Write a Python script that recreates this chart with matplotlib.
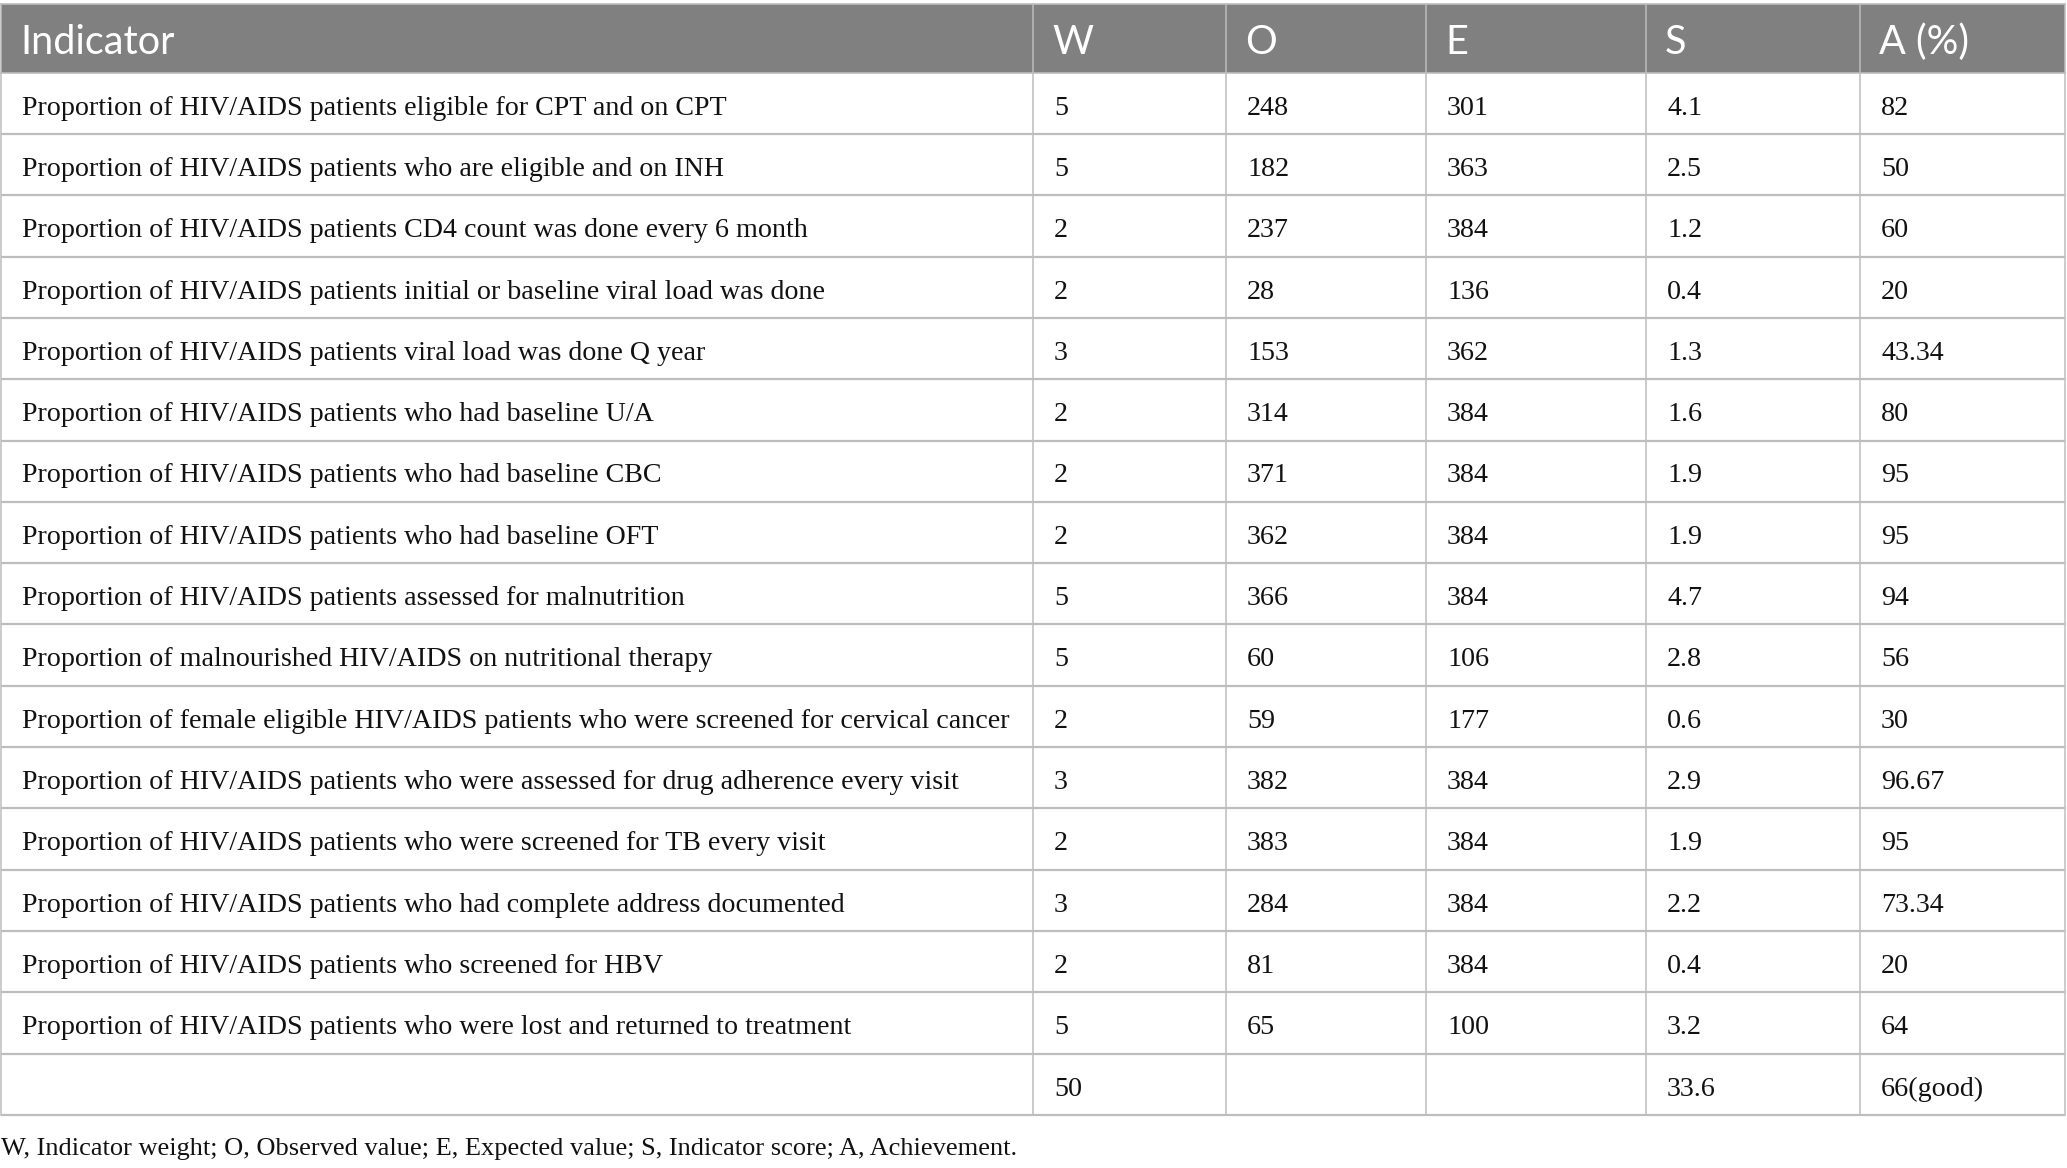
import matplotlib
matplotlib.use("Agg")
import matplotlib.pyplot as plt
from matplotlib.patches import Rectangle

# table content
headers = ["Indicator", "W", "O", "E", "S", "A (%)"]
indicators = [
    "Proportion of HIV/AIDS patients eligible for CPT and on CPT",
    "Proportion of HIV/AIDS patients who are eligible and on INH",
    "Proportion of HIV/AIDS patients CD4 count was done every 6 month",
    "Proportion of HIV/AIDS patients initial or baseline viral load was done",
    "Proportion of HIV/AIDS patients viral load was done Q year",
    "Proportion of HIV/AIDS patients who had baseline U/A",
    "Proportion of HIV/AIDS patients who had baseline CBC",
    "Proportion of HIV/AIDS patients who had baseline OFT",
    "Proportion of HIV/AIDS patients assessed for malnutrition",
    "Proportion of malnourished HIV/AIDS on nutritional therapy",
    "Proportion of female eligible HIV/AIDS patients who were screened for cervical cancer",
    "Proportion of HIV/AIDS patients who were assessed for drug adherence every visit",
    "Proportion of HIV/AIDS patients who were screened for TB every visit",
    "Proportion of HIV/AIDS patients who had complete address documented",
    "Proportion of HIV/AIDS patients who screened for HBV",
    "Proportion of HIV/AIDS patients who were lost and returned to treatment",
    "",
]
weight = ["5", "5", "2", "2", "3", "2", "2", "2", "5", "5", "2", "3", "2", "3", "2", "5", "50"]
observed = ["248", "182", "237", "28", "153", "314", "371", "362", "366", "60", "59", "382", "383", "284", "81", "65", ""]
expected = ["301", "363", "384", "136", "362", "384", "384", "384", "384", "106", "177", "384", "384", "384", "384", "100", ""]
score = ["4.1", "2.5", "1.2", "0.4", "1.3", "1.6", "1.9", "1.9", "4.7", "2.8", "0.6", "2.9", "1.9", "2.2", "0.4", "3.2", "33.6"]
achievement = ["82", "50", "60", "20", "43.34", "80", "95", "95", "94", "56", "30", "96.67", "95", "73.34", "20", "64", "66(good)"]
footnote = "W, Indicator weight; O, Observed value; E, Expected value; S, Indicator score; A, Achievement."

# layout in pixels
W_PX, H_PX = 2067, 1168
col_edges = [1, 1033, 1226, 1426, 1646, 1860, 2065]
header_top, header_bot = 4, 72.7
row_h = 61.3
pad = 21
header_color = "#7f807f"
line_color = "#bdbdbd"
serif = ["Liberation Serif", "DejaVu Serif"]
sans = ["Lato", "DejaVu Sans"]

fig = plt.figure(figsize=(W_PX / 100, H_PX / 100), dpi=100)
ax = fig.add_axes([0, 0, 1, 1])
ax.set_xlim(0, W_PX)
ax.set_ylim(H_PX, 0)
ax.axis("off")

# header
ax.add_patch(Rectangle((col_edges[0], header_top), col_edges[-1] - col_edges[0],
                       header_bot - header_top, facecolor=header_color, edgecolor="none"))
for j, h in enumerate(headers):
    ax.text(col_edges[j] + pad - 2, header_top + 50, h, color="white", fontsize=28.5,
            family=sans, ha="left", va="baseline")

columns = [indicators, weight, observed, expected, score, achievement]
n_rows = len(indicators)
table_bot = header_bot + n_rows * row_h

for i in range(n_rows):
    top = header_bot + i * row_h
    for j, col in enumerate(columns):
        ax.text(col_edges[j] + pad, top + 42, col[i], color="#111111", fontsize=20.15,
                family=serif, ha="left", va="baseline")
    ax.plot([col_edges[0], col_edges[-1]], [top + row_h, top + row_h],
            color=line_color, lw=1.6, solid_capstyle="butt")

# vertical lines
for x in col_edges:
    ax.plot([x, x], [header_top, table_bot], color=line_color, lw=1.1)
ax.plot([col_edges[0], col_edges[-1]], [header_top, header_top], color=line_color, lw=1.2)
ax.plot([col_edges[0], col_edges[-1]], [header_bot, header_bot], color=line_color, lw=1.2)

ax.text(1, 1155, footnote, color="#111111", fontsize=19.0, family=serif,
        ha="left", va="baseline")

fig.savefig("out.png", dpi=100)
